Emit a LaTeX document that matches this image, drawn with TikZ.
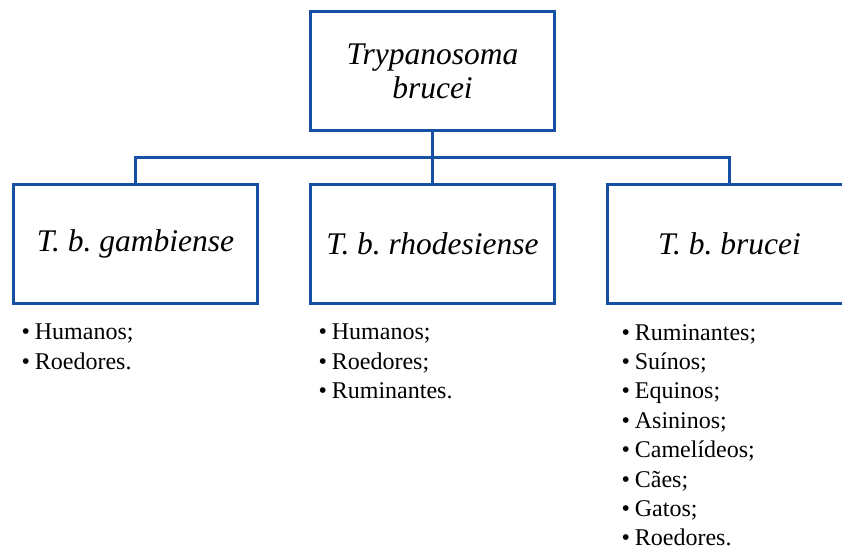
\documentclass[tikz,border=0pt]{standalone}
\usepackage{fontspec}
\setmainfont{Liberation Serif}
\usepackage{tikz}
\usetikzlibrary{positioning,calc}
\definecolor{boxblue}{RGB}{22,80,162}
\newcommand{\hostitem}{\textbullet\hspace{0.2em}}
\frenchspacing

\begin{document}
\begin{tikzpicture}[
  x=1pt,y=-1pt,
  taxon/.style={draw=boxblue,line width=3pt,minimum width=244pt,minimum height=119pt,
    inner sep=4pt,align=center,font=\fontsize{31.5}{34}\selectfont\itshape},
  hostlist/.style={anchor=north west,inner sep=0pt,align=left,font=\fontsize{24}{29.4}\selectfont},
  conn/.style={draw=boxblue,line width=3pt}
]
\clip (0,0) rectangle (842,551);
\node[taxon] (tb) at (432.5,71) {Trypanosoma\\brucei};
\node[taxon] (gam) at (135.5,244) {T. b. gambiense};
\node[taxon] (rho) at (432.5,244) {T. b. rhodesiense};
\node[taxon] (bru) at (729.5,244) {T. b. brucei};
\coordinate (bus) at (432.5,157);
\draw[conn] (tb.south) -- (bus);
\draw[conn] (bus) -| (gam.north);
\draw[conn] (bus) -| (bru.north);
\draw[conn] (bus) -- (rho.north);
% hospedeiros
\node[hostlist] (gamhost) at (21.5,324) {\hostitem Humanos;\\\hostitem Roedores.};
\node[hostlist] (rhohost) at (318.5,324) {\hostitem Humanos;\\\hostitem Roedores;\\\hostitem Ruminantes.};
\node[hostlist] (bruhost) at (621.5,324) {\hostitem Ruminantes;\\\hostitem Suínos;\\\hostitem Equinos;\\\hostitem Asininos;\\
  \hostitem Camelídeos;\\\hostitem Cães;\\\hostitem Gatos;\\\hostitem Roedores.};
\end{tikzpicture}
\end{document}
